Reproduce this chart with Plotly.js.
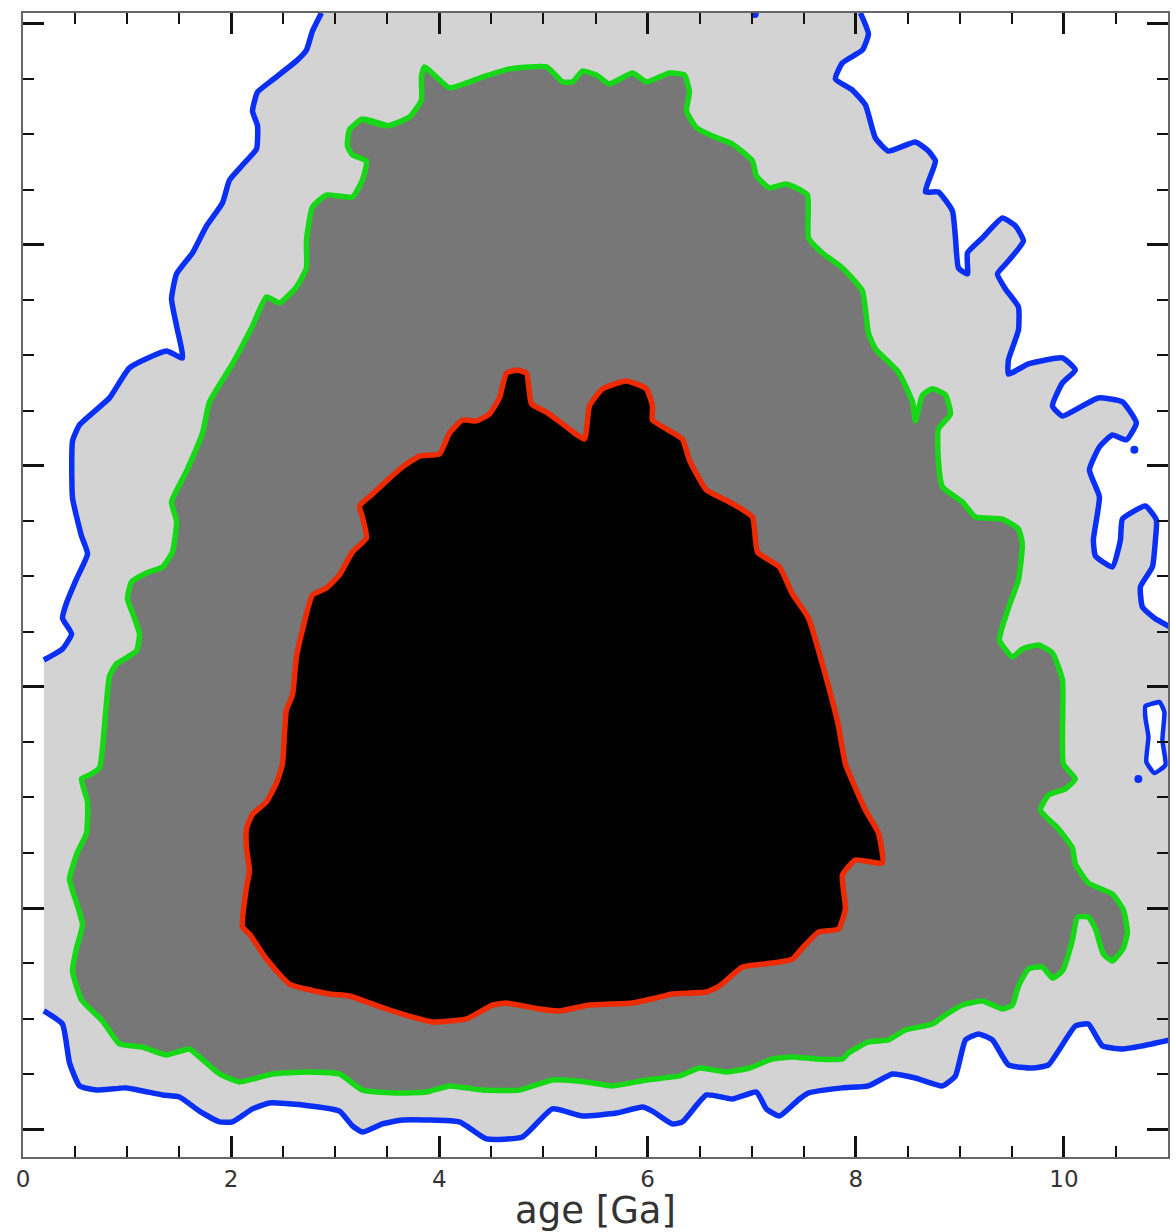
<!DOCTYPE html>
<html>
<head>
<meta charset="utf-8">
<script src="https://cdn.plot.ly/plotly-3.0.1.min.js"></script>
<style>
  html, body { margin: 0; padding: 0; background: #ffffff; }
  #chart { width: 1176px; height: 1232px; }
</style>
</head>
<body>
<div id="chart"></div>
<script>
// ---- data (age in Ga, y in axis units; y tick labels are not visible in the reference) ----
const ageRange = [0, 11];
const yRange = [-0.1267, 5.0497];
const dataEdgeAge = 0.2;   // left edge of the sampled region
const xTickVals = [0, 2, 4, 6, 8, 10];

// innermost contour (red, black fill)
const redAge = [4.750,4.837,4.885,5.029,5.221,5.394,5.442,5.567,5.797,5.989,
  6.047,6.047,6.181,6.335,6.402,6.566,6.787,7.008,7.056,7.267,
  7.392,7.546,7.690,7.834,7.901,8.093,8.218,8.256,7.997,7.872,
  7.901,7.834,7.642,7.488,7.392,7.200,6.912,6.691,6.566,6.239,
  6.085,5.855,5.442,5.154,4.962,4.645,4.510,4.260,3.934,3.809,
  3.492,3.136,2.944,2.560,2.339,2.176,2.109,2.147,2.176,2.147,
  2.147,2.205,2.339,2.435,2.493,2.512,2.531,2.589,2.627,2.685,
  2.781,2.915,3.040,3.165,3.300,3.261,3.233,3.357,3.492,3.646,
  3.809,4.001,4.097,4.222,4.356,4.481,4.577,4.645];
const redY = [3.434,3.421,3.281,3.244,3.177,3.122,3.272,3.349,3.385,3.349,
  3.272,3.208,3.168,3.122,3.027,2.891,2.837,2.769,2.611,2.543,
  2.421,2.312,2.086,1.824,1.652,1.443,1.339,1.204,1.217,1.149,
  0.996,0.905,0.891,0.819,0.769,0.751,0.733,0.647,0.620,0.611,
  0.593,0.570,0.561,0.534,0.543,0.570,0.561,0.498,0.484,0.498,
  0.543,0.602,0.611,0.656,0.769,0.882,0.914,1.095,1.167,1.272,
  1.358,1.425,1.480,1.566,1.652,1.792,1.896,1.964,2.136,2.258,
  2.416,2.448,2.507,2.611,2.674,2.769,2.819,2.873,2.932,2.996,
  3.045,3.054,3.149,3.208,3.204,3.235,3.308,3.421];

// middle contour (green, dark grey fill)
const greenAge = [3.261,3.501,3.713,3.828,3.828,3.857,4.097,4.414,4.673,5.029,
  5.183,5.279,5.375,5.509,5.634,5.855,5.989,6.210,6.355,6.402,
  6.374,6.470,6.623,6.815,7.008,7.046,7.171,7.334,7.536,7.546,
  7.680,7.872,8.064,8.122,8.189,8.410,8.545,8.573,8.641,8.737,
  8.862,8.910,8.794,8.794,8.833,9.025,9.150,9.409,9.563,9.601,
  9.563,9.477,9.381,9.505,9.601,9.755,9.890,9.986,9.995,10.110,
  10.014,9.851,9.774,9.947,10.082,10.110,10.235,10.466,10.572,10.610,
  10.572,10.466,10.379,10.303,10.235,10.130,10.082,9.986,9.890,9.793,
  9.659,9.563,9.505,9.409,9.217,9.025,8.862,8.737,8.477,8.314,
  8.122,7.930,7.872,7.613,7.392,7.200,6.979,6.758,6.499,6.306,
  5.989,5.663,5.413,5.086,4.769,4.414,4.097,3.876,3.617,3.261,
  3.040,2.723,2.397,2.080,1.888,1.695,1.599,1.378,1.148,0.927,
  0.764,0.562,0.476,0.514,0.572,0.524,0.447,0.524,0.610,0.620,
  0.562,0.639,0.735,0.783,0.831,0.898,1.090,1.119,1.071,1.004,
  1.042,1.186,1.340,1.436,1.475,1.427,1.571,1.724,1.792,2.012,
  2.205,2.339,2.464,2.627,2.723,2.723,2.781,2.915,3.165,3.261,
  3.300,3.165,3.117,3.136];
const greenY = [4.570,4.539,4.579,4.656,4.760,4.806,4.711,4.760,4.797,4.806,
  4.738,4.738,4.787,4.769,4.729,4.778,4.738,4.778,4.769,4.692,
  4.606,4.530,4.493,4.457,4.380,4.312,4.258,4.276,4.226,4.032,
  3.964,3.896,3.792,3.602,3.530,3.425,3.290,3.204,3.321,3.349,
  3.321,3.235,3.168,3.027,2.905,2.837,2.769,2.760,2.715,2.647,
  2.484,2.371,2.213,2.136,2.172,2.190,2.154,2.032,1.652,1.584,
  1.539,1.511,1.443,1.358,1.272,1.199,1.113,1.063,0.991,0.891,
  0.819,0.760,0.792,0.905,0.959,0.959,0.855,0.715,0.683,0.733,
  0.724,0.647,0.561,0.543,0.579,0.561,0.516,0.475,0.448,0.403,
  0.394,0.344,0.317,0.317,0.326,0.317,0.276,0.258,0.276,0.240,
  0.222,0.195,0.213,0.222,0.176,0.176,0.195,0.167,0.163,0.176,
  0.249,0.258,0.249,0.213,0.249,0.326,0.362,0.335,0.371,0.385,
  0.489,0.584,0.715,0.819,0.923,1.009,1.131,1.253,1.339,1.480,
  1.584,1.602,1.634,1.824,2.050,2.104,2.163,2.240,2.312,2.398,
  2.475,2.516,2.543,2.611,2.751,2.837,2.977,3.149,3.290,3.462,
  3.634,3.765,3.738,3.810,3.896,4.018,4.172,4.226,4.217,4.294,
  4.380,4.407,4.448,4.521];

// outer contour (blue), three open pieces crossing the frame
const blueUpperAge = [2.867,2.781,2.723,2.627,2.397,2.253,2.205,2.253,2.243,2.109,
  1.984,1.916,1.763,1.628,1.475,1.427,1.475,1.532,1.378,1.023,
  0.831,0.543,0.476,0.476,0.562,0.620,0.514,0.418,0.379,0.466,
  0.379,0.2];
const blueUpperY = [5.050,4.968,4.882,4.833,4.747,4.692,4.606,4.539,4.434,4.362,
  4.294,4.190,4.086,3.964,3.869,3.756,3.634,3.489,3.520,3.444,
  3.308,3.186,3.113,2.855,2.683,2.602,2.489,2.380,2.312,2.240,
  2.172,2.122];
const blueLowerAge = [0.2,0.379,0.447,0.543,0.706,0.994,1.340,1.503,1.695,1.888,
  2.012,2.205,2.368,2.685,3.040,3.165,3.261,3.453,3.646,4.193,
  4.452,4.798,5.086,5.375,5.701,5.951,6.047,6.239,6.335,6.566,
  6.815,7.046,7.142,7.267,7.459,7.546,7.872,8.122,8.352,8.573,
  8.833,8.958,9.054,9.179,9.313,9.467,9.697,9.851,10.110,10.235,
  10.370,10.562,10.754,11.02];
const blueLowerY = [0.534,0.475,0.299,0.195,0.176,0.186,0.154,0.145,0.081,0.032,
  0.032,0.091,0.118,0.109,0.081,0.014,-0.014,0.023,0.041,0.032,
  -0.045,-0.036,0.091,0.059,0.072,0.100,0.081,0.023,0.032,0.154,
  0.136,0.167,0.091,0.059,0.136,0.163,0.186,0.195,0.249,0.231,
  0.195,0.240,0.403,0.430,0.403,0.290,0.276,0.290,0.466,0.475,
  0.376,0.362,0.376,0.403];
const blueRightAge = [8.045,8.122,8.064,7.872,7.805,7.968,8.093,8.189,8.314,8.573,
  8.698,8.766,8.670,8.794,8.929,8.958,8.987,9.073,9.073,9.217,
  9.409,9.534,9.611,9.467,9.361,9.438,9.563,9.563,9.467,9.467,
  9.659,9.986,10.110,9.986,9.890,9.986,10.178,10.331,10.562,10.696,
  10.600,10.466,10.341,10.245,10.341,10.283,10.303,10.466,10.543,10.562,
  10.783,10.888,10.879,10.850,10.735,10.754,10.869,11.02];
const blueRightY = [5.050,4.955,4.882,4.824,4.751,4.701,4.634,4.484,4.425,4.466,
  4.425,4.380,4.240,4.240,4.154,4.032,3.896,3.869,3.964,4.032,
  4.122,4.086,4.018,3.928,3.869,3.801,3.720,3.615,3.480,3.416,
  3.462,3.489,3.434,3.376,3.272,3.226,3.272,3.308,3.290,3.195,
  3.118,3.140,3.086,2.982,2.860,2.665,2.593,2.543,2.665,2.760,
  2.819,2.756,2.665,2.543,2.453,2.362,2.312,2.271];

// small closed outer-contour island near the right edge (white inside)
const islandAge = [10.783,10.918,10.965,10.946,10.975,10.869,10.792,10.812,10.783];
const islandY = [1.914,1.932,1.887,1.760,1.647,1.611,1.661,1.774,1.860];

// tiny isolated outer-contour specks
const speckAge = [10.677, 10.715, 7.03];
const speckY = [3.073, 1.584, 5.045];

// ---- colours / styles ----
const lightGrey = '#d3d3d3';
const darkGrey = '#777777';
const blue = '#0a2ff5';
const green = '#17d817';
const red = '#ee2a00';
const lw = 5.5;
const smooth = 0.45;

// light grey region = inside the outer contour, bounded by the frame
const outerAge = blueUpperAge.concat(blueLowerAge, blueRightAge.slice().reverse());
const outerY = blueUpperY.concat(blueLowerY, blueRightY.slice().reverse());

function closed(a) { return a.concat([a[0], a[1]]); }

const traces = [
  {x: outerAge, y: outerY, type: 'scatter', mode: 'lines', fill: 'toself',
   fillcolor: lightGrey, line: {width: 0, color: lightGrey}, hoverinfo: 'skip'},
  {x: closed(greenAge), y: closed(greenY), type: 'scatter', mode: 'lines',
   fill: 'toself', fillcolor: darkGrey, line: {color: green, width: lw, shape: 'spline', smoothing: smooth}, hoverinfo: 'skip'},
  {x: closed(redAge), y: closed(redY), type: 'scatter', mode: 'lines',
   fill: 'toself', fillcolor: '#000000', line: {color: red, width: lw, shape: 'spline', smoothing: smooth}, hoverinfo: 'skip'},
  {x: blueUpperAge, y: blueUpperY, type: 'scatter', mode: 'lines', line: {color: blue, width: lw, shape: 'spline', smoothing: smooth}},
  {x: blueLowerAge, y: blueLowerY, type: 'scatter', mode: 'lines', line: {color: blue, width: lw, shape: 'spline', smoothing: smooth}},
  {x: blueRightAge, y: blueRightY, type: 'scatter', mode: 'lines', line: {color: blue, width: lw, shape: 'spline', smoothing: smooth}},
  {x: closed(islandAge), y: closed(islandY), type: 'scatter', mode: 'lines',
   fill: 'toself', fillcolor: '#ffffff', line: {color: blue, width: 4.5, shape: 'spline', smoothing: smooth}},
  {x: speckAge, y: speckY, type: 'scatter', mode: 'markers',
   marker: {color: blue, size: 8, line: {width: 0}}}
];

const tickFont = {family: 'DejaVu Sans, sans-serif', size: 23, color: '#333333'};

const layout = {
  width: 1176, height: 1232,
  margin: {l: 23, r: 8, t: 13, b: 75, pad: 0},
  paper_bgcolor: '#ffffff', plot_bgcolor: '#ffffff',
  showlegend: false,
  xaxis: {
    range: ageRange, tick0: 0, dtick: 2, tickvals: xTickVals,
    ticks: 'inside', ticklen: 21, tickwidth: 3, tickcolor: '#111111',
    minor: {tick0: 0, dtick: 0.5, ticks: 'inside', ticklen: 11, tickwidth: 2, tickcolor: '#111111', showgrid: false},
    showline: true, linecolor: '#666666', linewidth: 2, mirror: 'allticks',
    showgrid: false, zeroline: false,
    tickfont: tickFont,
    title: {text: 'age [Ga]', font: {family: 'DejaVu Sans, sans-serif', size: 37, color: '#333333'}, standoff: 6}
  },
  yaxis: {
    range: yRange, tick0: 0, dtick: 1,
    ticks: 'inside', ticklen: 21, tickwidth: 3, tickcolor: '#111111',
    minor: {tick0: 0, dtick: 0.25, ticks: 'inside', ticklen: 11, tickwidth: 2, tickcolor: '#111111', showgrid: false},
    showline: true, linecolor: '#666666', linewidth: 2, mirror: 'allticks',
    showgrid: false, zeroline: false, showticklabels: false
  }
};

Plotly.newPlot('chart', traces, layout, {staticPlot: true, displayModeBar: false});
</script>
</body>
</html>
